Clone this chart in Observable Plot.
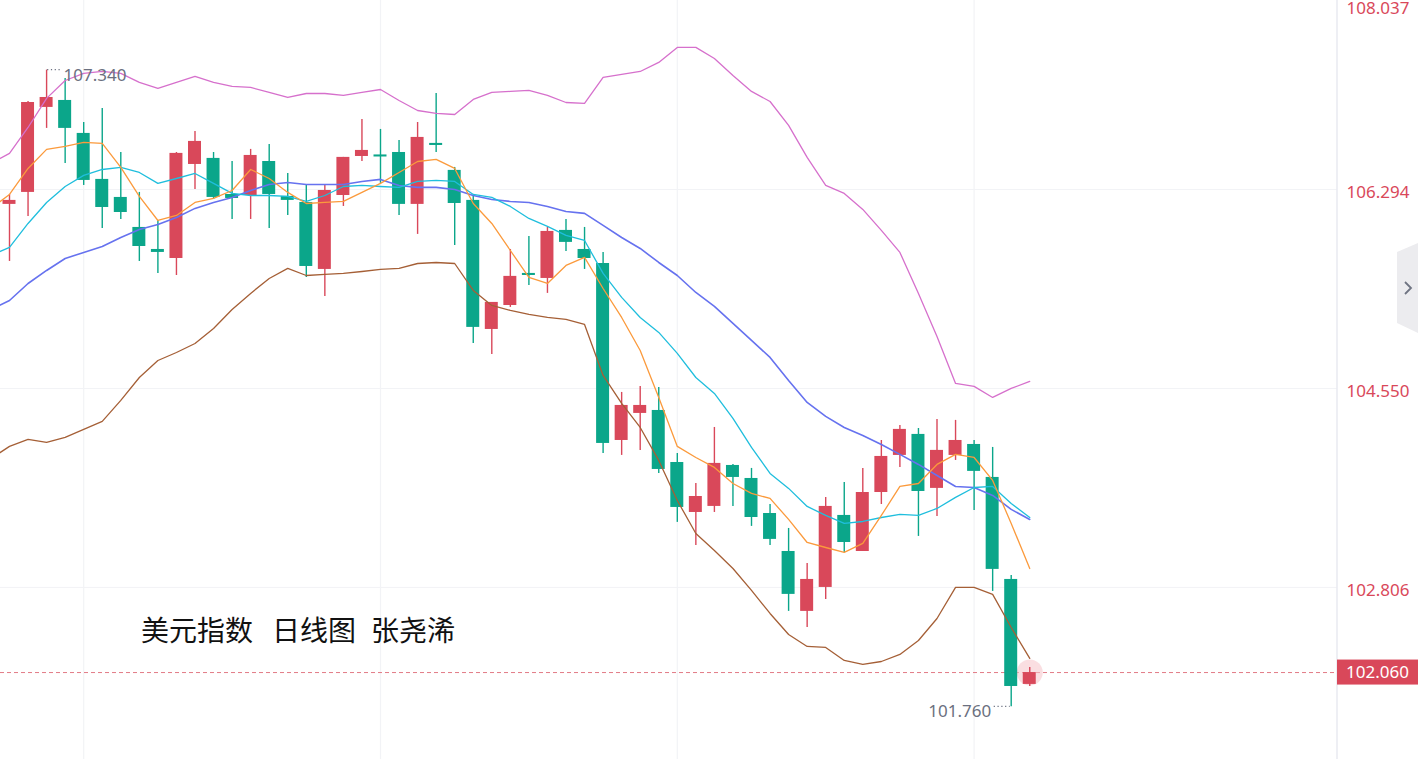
<!DOCTYPE html>
<html><head><meta charset="utf-8">
<script src="https://cdn.jsdelivr.net/npm/d3@7"></script>
<script src="https://cdn.jsdelivr.net/npm/@observablehq/plot@0.6"></script>
<style>
html,body{margin:0;padding:0;background:#fff;overflow:hidden;}
#wrap{position:relative;width:1418px;height:759px;}
#chart svg{display:block;}
.ttl{position:absolute;top:614px;font-family:"Noto Sans CJK SC";font-size:28px;line-height:30px;color:#111;white-space:pre;}
#btn{position:absolute;left:1390px;top:238px;}
</style></head><body>
<div id="wrap">
<div id="chart"></div>
<div class="ttl" style="left:141px">美元指数</div>
<div class="ttl" style="left:272px">日线图</div>
<div class="ttl" style="left:371px">张尧浠</div>
<svg id="btn" width="28" height="100" viewBox="1390 238 28 100">
<polygon points="1418,243 1397,252 1397,323 1418,333" fill="#ececef"/>
<polyline points="1405,282 1411,288 1405,294" fill="none" stroke="#6f7482" stroke-width="1.8"/>
</svg>
</div>
<script>
// ---- data (price values, daily candles, index 0..55) ----
const opens = [106.163,106.268,107.013,107.074,106.785,106.382,106.224,105.961,105.768,105.689,
106.513,106.566,106.250,106.241,106.539,106.233,106.180,105.593,106.241,106.583,
106.592,106.618,106.163,106.697,106.461,106.198,105.067,105.277,105.558,105.514,
105.935,105.768,105.645,104.094,104.331,104.357,103.901,103.463,103.516,103.875,
103.761,103.454,103.121,102.596,102.806,103.437,103.121,103.638,103.963,104.147,
103.674,103.963,104.059,103.770,102.876,101.956];
const closes = [106.198,107.056,107.100,106.829,106.373,106.136,106.092,105.794,105.742,106.610,
106.715,106.224,106.215,106.592,106.250,106.198,105.619,106.285,106.575,106.636,
106.583,106.163,106.750,106.680,106.171,105.085,105.304,105.532,105.540,105.926,
105.830,105.689,104.068,104.401,104.401,103.840,103.507,103.603,103.893,103.770,
103.419,103.227,102.745,102.876,103.516,103.200,103.638,103.954,104.191,103.647,
104.007,104.094,103.823,102.964,101.938,102.060];
const highs = [106.250,107.065,107.340,107.267,106.881,107.004,106.618,106.268,106.022,106.618,
106.802,106.618,106.539,106.645,106.688,106.434,106.329,106.329,106.575,106.908,
106.820,106.723,106.881,107.135,106.487,106.233,105.304,105.768,105.882,105.961,
106.031,105.961,105.742,104.515,104.568,104.559,103.980,103.717,104.208,103.884,
103.849,103.533,103.323,103.016,103.595,103.726,103.849,104.094,104.226,104.199,
104.278,104.270,104.094,104.033,102.911,102.105];
const lows = [105.663,106.057,106.829,106.522,106.329,105.952,106.031,105.663,105.558,105.540,
106.294,106.206,106.031,106.031,105.952,106.066,105.523,105.356,106.145,106.539,
106.347,106.066,105.900,106.618,105.803,104.944,104.848,105.260,105.453,105.383,
105.751,105.593,103.980,103.963,104.007,103.805,103.376,103.174,103.463,103.516,
103.341,103.174,102.596,102.455,102.701,103.113,103.121,103.533,103.858,103.253,
103.428,103.919,103.481,102.771,101.760,101.938];

// indicator lines, first value belongs to the day before index 0
const lineStart = -1;
const ma5 = [106.128,106.250,106.478,106.645,106.671,106.706,106.697,106.487,106.233,106.022,
106.066,106.180,106.215,106.285,106.469,106.390,106.268,106.171,106.180,106.189,
106.268,106.347,106.443,106.539,106.557,106.478,106.171,105.996,105.759,105.523,
105.470,105.628,105.698,105.426,105.172,104.883,104.471,104.042,103.945,103.858,
103.717,103.630,103.586,103.402,103.200,103.156,103.113,103.192,103.437,103.691,
103.717,103.884,103.972,103.945,103.744,103.367,102.972];
const ma10 = [105.716,105.786,105.996,106.180,106.320,106.417,106.469,106.487,106.443,106.347,
106.390,106.434,106.347,106.259,106.241,106.241,106.233,106.189,106.241,106.320,
106.329,106.320,106.312,106.364,106.373,106.364,106.250,106.224,106.145,106.040,
105.970,105.891,105.847,105.558,105.348,105.172,105.041,104.857,104.646,104.506,
104.287,104.033,103.805,103.674,103.516,103.437,103.367,103.384,103.419,103.446,
103.437,103.498,103.595,103.682,103.691,103.542,103.419];
const ma20 = [105.242,105.321,105.470,105.584,105.689,105.742,105.794,105.873,105.943,105.987,
106.049,106.128,106.180,106.224,106.285,106.338,106.355,106.338,106.338,106.338,
106.364,106.382,106.329,106.312,106.312,106.294,106.241,106.206,106.189,106.180,
106.145,106.101,106.084,105.979,105.873,105.777,105.654,105.540,105.391,105.269,
105.120,104.971,104.822,104.620,104.427,104.305,104.208,104.138,104.059,103.972,
103.884,103.787,103.691,103.682,103.612,103.490,103.402];
const bollUpper = [106.522,106.610,106.837,107.092,107.249,107.311,107.328,107.311,107.232,107.179,
107.232,107.284,107.232,107.197,107.188,107.144,107.100,107.135,107.135,107.118,
107.144,107.170,107.074,106.986,106.960,106.951,107.083,107.144,107.153,107.162,
107.118,107.056,107.048,107.276,107.302,107.328,107.407,107.539,107.539,107.442,
107.293,107.153,107.065,106.855,106.575,106.329,106.259,106.119,105.935,105.742,
105.383,105.006,104.594,104.568,104.471,104.550,104.611];
const bollLower = [103.936,104.042,104.103,104.077,104.121,104.191,104.261,104.445,104.646,104.795,
104.865,104.944,105.076,105.242,105.383,105.514,105.602,105.540,105.549,105.558,
105.575,105.593,105.602,105.645,105.654,105.645,105.409,105.277,105.234,105.199,
105.172,105.155,105.111,104.664,104.419,104.208,103.919,103.568,103.279,103.130,
102.972,102.780,102.578,102.394,102.289,102.280,102.166,102.131,102.157,102.219,
102.341,102.534,102.806,102.806,102.745,102.455,102.184];

const yTicks = [108.037, 106.294, 104.550, 102.806];
const xGridDays = [4, 20, 36, 52];
const lastPrice = 102.060;
const highMark = {i: 2, v: 107.340, label: "107.340"};
const lowMark = {i: 54, v: 101.760, label: "101.760"};

// ---- build tables ----
const candles = opens.map((o, i) => ({i, o, c: closes[i], h: highs[i], l: lows[i]}));
const lineTable = (arr) => arr.map((v, k) => ({i: k + lineStart, v}));

const RED = "#d9485a", GREEN = "#0ba68a", GRID = "#f2f3f6";
const color = d => d.c >= d.o ? RED : GREEN;
const bodyLo = d => { const lo = Math.min(d.o, d.c), hi = Math.max(d.o, d.c); return hi - lo < 0.018 ? (lo + hi) / 2 - 0.009 : lo; };
const bodyHi = d => { const lo = Math.min(d.o, d.c), hi = Math.max(d.o, d.c); return hi - lo < 0.018 ? (lo + hi) / 2 + 0.009 : hi; };

const W = 1418, H = 759, MR = 81;
const chart = Plot.plot({
  width: W, height: H,
  marginLeft: 0, marginRight: MR, marginTop: 0, marginBottom: 0,
  style: {fontFamily: "'Noto Sans', sans-serif", background: "#fff", overflow: "visible"},
  x: {type: "linear", domain: [-0.485, 71.59], axis: null},
  y: {type: "linear", domain: [101.298, 107.950], axis: null},
  marks: [
    Plot.ruleY(yTicks, {stroke: GRID, strokeWidth: 1}),
    Plot.ruleX(xGridDays, {stroke: GRID, strokeWidth: 1.2}),
    Plot.ruleY([lastPrice], {stroke: "#e27a86", strokeDasharray: "4,3", strokeWidth: 1}),
    Plot.dot([candles[candles.length - 1]], {x: "i", y: "c", r: 13, fill: "#f6c3c9", fillOpacity: 0.55}),
    Plot.ruleX(candles, {x: "i", y1: "l", y2: "h", stroke: color, strokeWidth: 1.4}),
    Plot.rect(candles, {x1: d => d.i - 0.35, x2: d => d.i + 0.35, y1: bodyLo, y2: bodyHi, fill: color}),
    Plot.line(lineTable(bollLower), {x: "i", y: "v", stroke: "#a55f36", strokeWidth: 1.3}),
    Plot.line(lineTable(bollUpper), {x: "i", y: "v", stroke: "#d670cc", strokeWidth: 1.3}),
    Plot.line(lineTable(ma20), {x: "i", y: "v", stroke: "#6672ef", strokeWidth: 1.6}),
    Plot.line(lineTable(ma10), {x: "i", y: "v", stroke: "#1fbedd", strokeWidth: 1.3}),
    Plot.line(lineTable(ma5), {x: "i", y: "v", stroke: "#fb9a3c", strokeWidth: 1.3}),
    Plot.text(yTicks.slice(1), {y: d => d, text: d => d.toFixed(3), frameAnchor: "right", textAnchor: "start", dx: 9, dy: 3, fill: RED, fontSize: 17}),
    Plot.text([yTicks[0]], {text: d => d.toFixed(3), frameAnchor: "top-right", textAnchor: "start", lineAnchor: "middle", dx: 9, dy: 8, fill: RED, fontSize: 17}),
    Plot.text([highMark], {x: "i", y: "v", text: "label", textAnchor: "start", dx: 17, dy: 5, fill: "#6b7080", fontSize: 17}),
    Plot.text([lowMark], {x: "i", y: "v", text: "label", textAnchor: "end", dx: -20, dy: 5, fill: "#6b7080", fontSize: 17})
  ]
});
document.getElementById("chart").appendChild(chart);

// extras positioned through the plot's own scales
const sx = chart.scale("x"), sy = chart.scale("y");
const g = d3.select(chart).append("g").attr("text-anchor", "start");
// right border of plot area
g.append("line").attr("x1", W - MR).attr("x2", W - MR).attr("y1", 0).attr("y2", H)
  .attr("stroke", "#e9eaf0").attr("stroke-width", 1.5);
// dotted leaders for high / low labels
const hx = sx.apply(highMark.i), hy = sy.apply(highMark.v);
g.append("line").attr("x1", hx + 1).attr("x2", hx + 15).attr("y1", hy).attr("y2", hy)
  .attr("stroke", "#6b7080").attr("stroke-width", 1.2).attr("stroke-dasharray", "1.2,2.6");
const lx = sx.apply(lowMark.i), ly = sy.apply(lowMark.v);
g.append("line").attr("x1", lx - 17).attr("x2", lx - 1).attr("y1", ly).attr("y2", ly)
  .attr("stroke", "#6b7080").attr("stroke-width", 1.2).attr("stroke-dasharray", "1.2,2.6");
// current price box
const py = sy.apply(lastPrice);
g.append("rect").attr("x", W - MR).attr("y", py - 12.5).attr("width", MR).attr("height", 25).attr("fill", RED);
g.append("text").attr("x", W - MR + 9).attr("y", py).attr("dy", "0.35em").attr("text-anchor", "start")
  .attr("fill", "#fff").attr("font-size", 17).attr("font-family", "'Noto Sans', sans-serif")
  .text(lastPrice.toFixed(3));
</script>
</body></html>
